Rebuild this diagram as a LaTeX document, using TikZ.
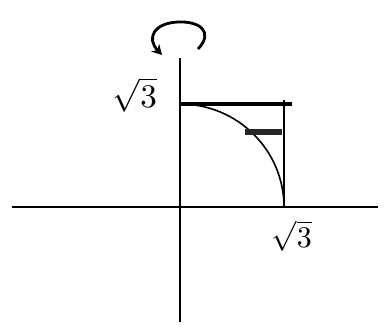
\documentclass[tikz,border=0pt]{standalone}
\usepackage{graphicx}
\usetikzlibrary{arrows.meta}
\begin{document}
\begin{tikzpicture}[x=1pt,y=-1pt,
  axis/.style={line width=1.4pt},
  thick line/.style={line width=3.5pt},
  curve/.style={line width=1.6pt},
  lbl/.style={inner sep=0pt}]
\useasboundingbox (0,0) rectangle (384,327);
\coordinate (O) at (180,207);
\coordinate (xl) at (12,207);
\coordinate (xr) at (378,207);
\coordinate (yb) at (180,322);
\coordinate (yt) at (180,58);
\coordinate (A) at (180,104);
\coordinate (B) at (284,207);
\coordinate (T) at (292,104);
\coordinate (R) at (284,100);
\coordinate (r1) at (198,49);
\coordinate (r2) at (178,22);
\coordinate (r3) at (162,55);
\draw[axis] (xl) -- (xr);
\draw[axis] (yb) -- (yt);
\draw[thick line] (A) -- (T);
\draw[axis] (R) -- (B);
\draw[curve] (A) arc[start angle=90, end angle=0, x radius=104, y radius=-103];
\fill[black!85] (245,129) rectangle (282,135);
\draw[line width=2.8pt,-{Stealth[length=10pt,width=11pt]}] (r1) .. controls (214,32) and (200,21) .. (r2) .. controls (154,23) and (146,38) .. (r3);
\node[lbl] (l1) at (135,95) {\scalebox{3.3}{$\sqrt{3}$}};
\node[lbl] (l2) at (292,236) {\scalebox{3.0}{$\sqrt{3}$}};
\end{tikzpicture}
\end{document}
